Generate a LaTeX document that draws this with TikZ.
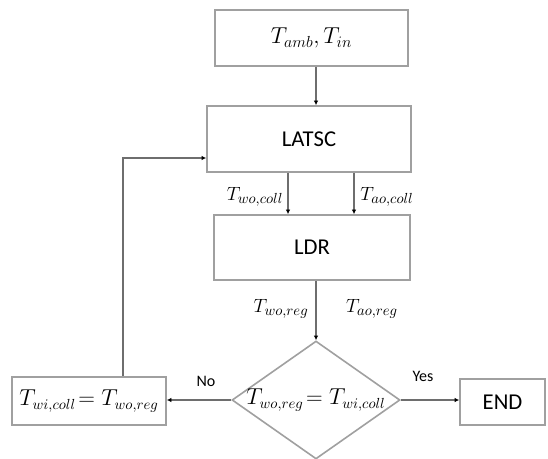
\documentclass[tikz,border=0pt]{standalone}
\usepackage{amsmath,amssymb}
\usepackage{fontspec}
\setmainfont{Carlito}
\usepackage{tikz}
\usetikzlibrary{shapes.geometric,arrows.meta}

\tikzset{
  box/.style={draw={rgb,255:red,160;green,160;blue,160},line width=1.2pt,fill=white,
    inner sep=0pt,font=\fontsize{17}{20}\selectfont},
  flow/.style={draw={rgb,255:red,110;green,110;blue,110},line width=1pt,
    -{Latex[length=3.5pt,width=3.5pt,black]}},
  lab/.style={inner sep=1pt,font=\fontsize{15}{18}\selectfont}
}

\begin{document}
\begin{tikzpicture}[x=0.75pt,y=0.75pt,yscale=-1,xscale=1]
\useasboundingbox (0,0) rectangle (548,459);

%Boxes
\node [box,minimum width=144.75pt,minimum height=42pt,font=\fontsize{18}{21}\selectfont] (inp) at (311.5,38) {$T_{amb},T_{in}$};
\node [box,minimum width=153pt,minimum height=49.5pt] (latsc) at (309,139) {LATSC};
\node [box,minimum width=147pt,minimum height=48.75pt] (ldr) at (312,247.5) {LDR};
\node [box,diamond,aspect=1.42,minimum width=126pt,minimum height=88.5pt] (check) at (316,400) {};
\node [font=\fontsize{16}{19}\selectfont] (checktxt) at (316,400) {$T_{wo,reg}\!=T_{wi,coll}$};
\node [box,minimum width=115.5pt,minimum height=36pt,font=\fontsize{16}{19}\selectfont] (upd) at (89,401) {$T_{wi,coll}\!=T_{wo,reg}$};
\node [box,minimum width=63.75pt,minimum height=34.5pt] (end) at (502.5,402) {END};

%helper coordinates
\coordinate (mid) at (316,0);
\coordinate (wocoll) at (288,0);
\coordinate (aocoll) at (354,0);
\coordinate (loop) at (123,158);

%Connectors
\draw [flow] (inp.south -| mid) -- (latsc.north -| mid);
\draw [flow] (latsc.south -| wocoll) -- (ldr.north -| wocoll);
\draw [flow] (latsc.south -| aocoll) -- (ldr.north -| aocoll);
\draw [flow] (ldr.south -| mid) -- (check.north);
\draw [flow] (check.west) -- (upd.east |- check.west);
\draw [flow] (check.east) -- (end.west |- check.east);
\draw [flow] (upd.north -| loop) |- (latsc.west |- loop);

% Text Node
\node [lab] (lwocoll) at (255,197) {$T_{wo,coll}$};
% Text Node
\node [lab] (laocoll) at (387,197) {$T_{ao,coll}$};
% Text Node
\node [lab] (lworeg) at (281,309) {$T_{wo,reg}$};
% Text Node
\node [lab] (laoreg) at (372,309) {$T_{ao,reg}$};
% Text Node
\node [font=\fontsize{12}{14}\selectfont] (no) at (206,381) {No};
% Text Node
\node [font=\fontsize{12}{14}\selectfont] (yes) at (423,376) {Yes};

\end{tikzpicture}
\end{document}
